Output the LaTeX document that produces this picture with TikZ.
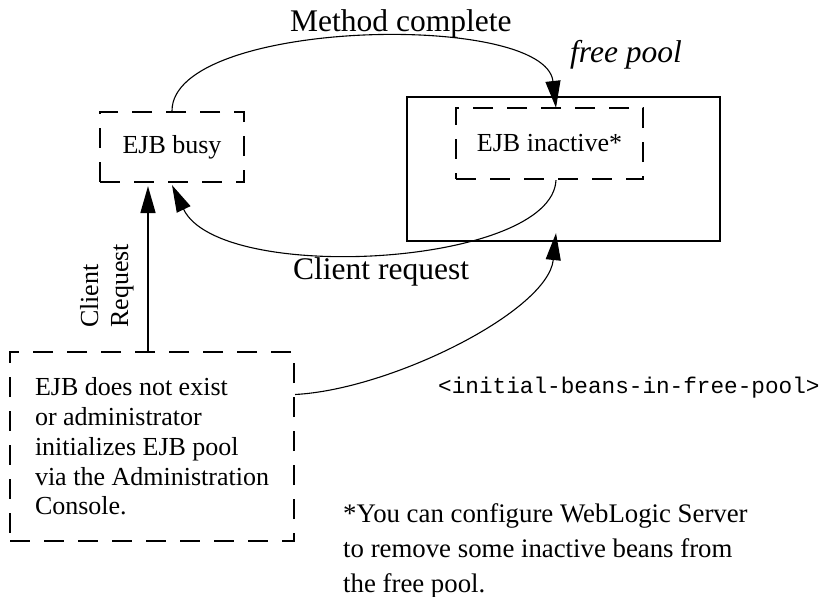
\documentclass[tikz,border=0pt]{standalone}
\usepackage{fontspec}
\setmainfont{Liberation Serif}
\setmonofont{Liberation Mono}
\usetikzlibrary{arrows.meta,calc}
\begin{document}
\begin{tikzpicture}[x=1pt,y=-1pt,
  dbox/.style={draw, line width=2.2pt, dash pattern=on 20pt off 14pt, inner sep=0pt,
    font=\fontsize{26}{29.7}\selectfont},
  poolbox/.style={draw, line width=2.2pt, inner sep=0pt},
  arr/.style={-{Triangle[length=27pt,width=15pt]}, line width=1.1pt},
  lbl/.style={inner sep=0pt, font=\fontsize{31.5}{34}\selectfont},
  txt/.style={inner sep=0pt, font=\fontsize{26}{30}\selectfont}]
\useasboundingbox (0,0) rectangle (823,597);
% boxes
\node[poolbox, minimum width=313pt, minimum height=144pt] (pool) at (563.5,169) {};
\node[dbox, minimum width=144pt, minimum height=70pt] (busy) at (172,147) {EJB busy};
\node[dbox, minimum width=187pt, minimum height=71pt] (inactive) at (549.5,143.5) {EJB inactive*};
\node[dbox, minimum width=284pt, minimum height=189pt, align=left] (init) at (152,446.5)
  {EJB does not exist\\or administrator\\initializes EJB pool\\via the Administration\\Console.};
% labels
\node[lbl, anchor=base west] (mc) at (290,31) {Method complete};
\node[lbl, anchor=base west] (fp) at (570,62) {\itshape free pool};
\node[lbl, anchor=base west] (cr) at (293,279) {Client request};
\node[txt, rotate=90, anchor=north west, align=left] (crv) at (80,328) {Client\\Request};
\node[inner sep=0pt, anchor=base west, font=\ttfamily\fontsize{22.7}{26}\selectfont] (ib) at (438,393) {<initial-beans-in-free-pool>};
\node[inner sep=0pt, anchor=north west, align=left, font=\fontsize{26.8}{35}\selectfont] (note) at (343,503)
  {*You can configure WebLogic Server\\to remove some inactive beans from\\the free pool.};
% connectors
\coordinate (crx) at (148,0);
\draw[arr, line width=1.6pt] (init.north -| crx) -- ($(busy.south -| crx)+(0,3)$);
\draw[arr] (busy.north) .. controls +(0,-92) and +(-11,-97) .. ($(inactive.north)+(6.5,1)$);
\draw[arr] ($(inactive.south)+(6.5,0)$) .. controls +(-4,86) and +(48,100) .. ($(busy.south)+(0,2)$);
\draw[arr] ($(init.north east)!0.228!(init.south east)$) .. controls +(96,-5) and +(-8,78) .. ($(pool.south)+(-7.5,-9)$);
\end{tikzpicture}
\end{document}
